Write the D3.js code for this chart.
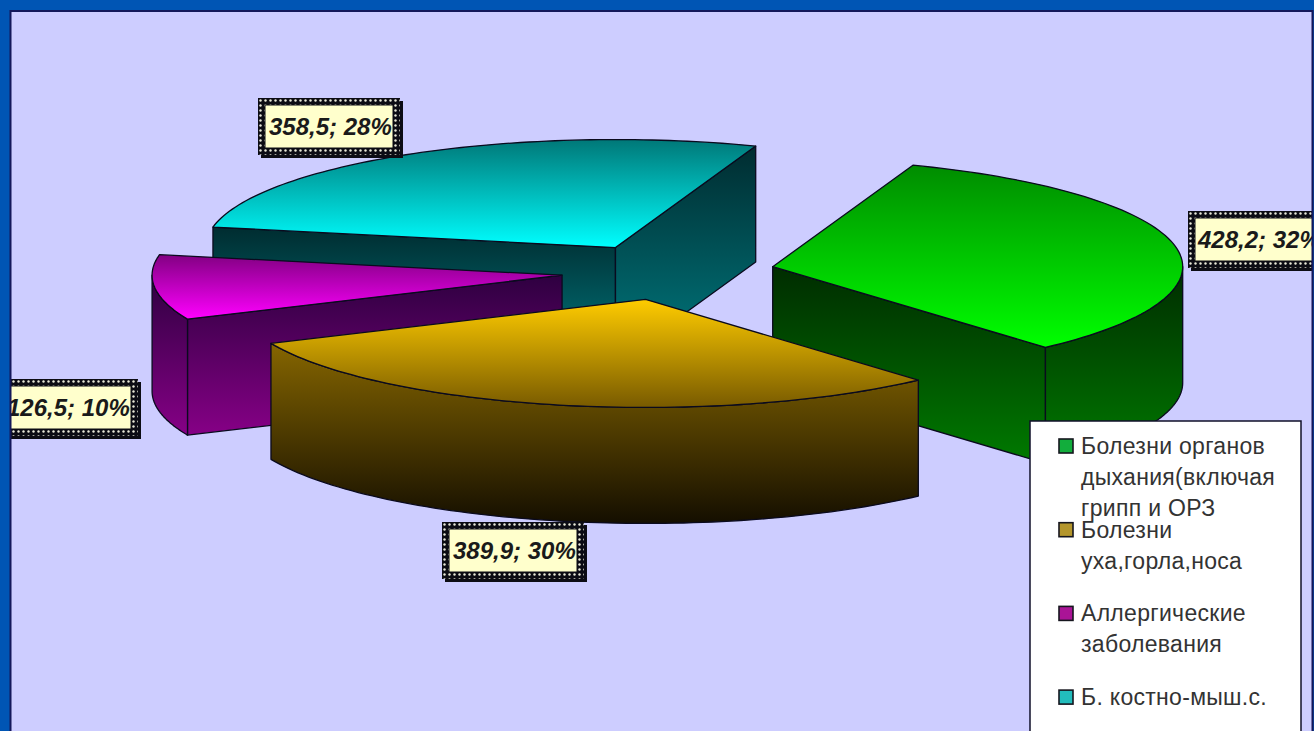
<!DOCTYPE html>
<html lang="ru">
<head>
<meta charset="utf-8">
<script src="https://cdn.jsdelivr.net/npm/d3@7"></script>
<style>
  html, body { margin: 0; padding: 0; background: #0055b4; overflow: hidden; }
  svg { display: block; }
  text { font-family: "Liberation Sans", Arial, sans-serif; }
</style>
</head>
<body>
<script>
// Заболеваемость по группам болезней
const categories = ["Болезни органов дыхания", "Болезни уха, горла, носа", "Аллергические заболевания", "Б. костно-мыш.с."];
const values = [428.2, 389.9, 126.5, 358.5];
const shares = [32, 30, 10, 28];
const legendLines = [
  ["Болезни органов", "дыхания(включая", "грипп и ОРЗ"],
  ["Болезни", "уха,горла,носа"],
  ["Аллергические", "заболевания"],
  ["Б. костно-мыш.с."]
];

const W = 1314, H = 731;

// Параметры объёмной разрезанной диаграммы
const cx = 668, cy = 272, rx = 410, ry = 108, depth = 116, explode = 0.26;
const startAngle = -70 * Math.PI / 180;

const palette = [
  { top: ["#008c00", "#00ff00"], side: ["#002c00", "#007a00"], swatch: "#12ad3c" },
  { top: ["#ffcc00", "#785a00"], side: ["#866600", "#140e00"], swatch: "#b4962c" },
  { top: ["#820082", "#ff00ff"], side: ["#2e0040", "#860086"], swatch: "#aa1496" },
  { top: ["#007878", "#00ffff"], side: ["#002c30", "#007a80"], swatch: "#22bcbc" }
];

// Рамки подписей: левый верхний угол и ширина блока
const labelLayout = [
  { x: 1188, y: 211, w: 150 },
  { x: 442, y: 522, w: 142 },
  { x: -4, y: 379, w: 142 },
  { x: 258, y: 98, w: 142 }
];

const svg = d3.select("body").append("svg").attr("width", W).attr("height", H);
const defs = svg.append("defs");

function verticalGradient(id, stops) {
  const g = defs.append("linearGradient").attr("id", id)
    .attr("x1", 0).attr("y1", 0).attr("x2", 0).attr("y2", 1);
  g.selectAll("stop").data(stops).join("stop")
    .attr("offset", (d, i) => i / (stops.length - 1))
    .attr("stop-color", d => d);
}
palette.forEach((p, i) => {
  verticalGradient("top" + i, p.top);
  verticalGradient("side" + i, p.side);
});

// Точечный узор рамки подписи
const dots = defs.append("pattern").attr("id", "dots")
  .attr("width", 5).attr("height", 5).attr("patternUnits", "userSpaceOnUse");
dots.append("rect").attr("width", 5).attr("height", 5).attr("fill", "#0c0c14");
dots.append("circle").attr("cx", 2.5).attr("cy", 2.5).attr("r", 1.2).attr("fill", "#e8e8d8");

svg.append("rect").attr("width", W).attr("height", H).attr("fill", "#cdcdff");

const pie = d3.pie().sort(null).startAngle(startAngle).endAngle(startAngle + 2 * Math.PI);
const arcs = pie(values);

const xScale = d3.scaleLinear().domain([-1, 1]).range([-rx, rx]);
const yScale = d3.scaleLinear().domain([-1, 1]).range([-ry, ry]);
const line = d3.line();

function geometry(a) {
  const mid = (a.startAngle + a.endAngle) / 2;
  const ox = cx + explode * xScale(Math.cos(mid));
  const oy = cy + explode * yScale(Math.sin(mid));
  const at = t => [ox + xScale(Math.cos(t)), oy + yScale(Math.sin(t))];
  const rim = (t0, t1) => d3.range(0, 81).map(k => at(t0 + (t1 - t0) * k / 80));
  return { apex: [ox, oy], at, rim };
}
const drop = p => [p[0], p[1] + depth];

function drawSlice(i) {
  const a = arcs[i], g = geometry(a);
  const group = svg.append("g").attr("class", "slice");
  const face = (pts, fill) => group.append("path")
    .attr("d", line(pts) + "Z")
    .attr("fill", fill)
    .attr("stroke", "#0a0a1e").attr("stroke-width", 1.3).attr("stroke-linejoin", "round");

  // Боковые грани разреза, обращённые к зрителю
  if (Math.cos(a.startAngle) < 0) {
    const p = g.at(a.startAngle);
    face([g.apex, p, drop(p), drop(g.apex)], `url(#side${i})`);
  }
  if (Math.cos(a.endAngle) > 0) {
    const p = g.at(a.endAngle);
    face([g.apex, p, drop(p), drop(g.apex)], `url(#side${i})`);
  }
  // Внешняя стенка видна только на передней половине эллипса
  [-2, 0, 2].forEach(k => {
    const lo = Math.max(a.startAngle, k * Math.PI);
    const hi = Math.min(a.endAngle, (k + 1) * Math.PI);
    if (hi > lo) {
      const edge = g.rim(lo, hi);
      face(edge.concat(edge.map(drop).reverse()), `url(#side${i})`);
    }
  });
  // Верхняя грань
  face([g.apex].concat(g.rim(a.startAngle, a.endAngle)), `url(#top${i})`);
}

// Порядок рисования: от дальних секторов к ближним
[3, 2, 0, 1].forEach(drawSlice);

// Подписи данных
const commaNumber = v => d3.format(".1f")(v).replace(".", ",");
const labels = svg.selectAll("g.label").data(values).join("g").attr("class", "label")
  .attr("transform", (d, i) => `translate(${labelLayout[i].x},${labelLayout[i].y})`);
labels.append("rect").attr("x", 3).attr("y", 3)
  .attr("width", (d, i) => labelLayout[i].w).attr("height", 57).attr("fill", "#0c0c14");
labels.append("rect")
  .attr("width", (d, i) => labelLayout[i].w).attr("height", 57).attr("fill", "url(#dots)");
labels.append("rect").attr("x", 7).attr("y", 7)
  .attr("width", (d, i) => labelLayout[i].w - 14).attr("height", 43)
  .attr("fill", "#ffffcc").attr("stroke", "#0c0c14").attr("stroke-width", 1);
labels.append("text").attr("x", (d, i) => i === 0 ? 10 : 11).attr("y", 37)
  .attr("font-size", 24).attr("font-weight", "bold").attr("font-style", "italic").attr("fill", "#1a1a1a")
  .text((d, i) => `${commaNumber(d)}; ${shares[i]}%`);

// Легенда
const legendX = 1030, legendY = 421, itemStep = 83.7, lineStep = 31;
svg.append("rect").attr("x", legendX).attr("y", legendY).attr("width", 271).attr("height", H)
  .attr("fill", "#fff").attr("stroke", "#10102a").attr("stroke-width", 1.5);
const items = svg.selectAll("g.legend").data(legendLines).join("g").attr("class", "legend")
  .attr("transform", (d, i) => `translate(${legendX + 29},${legendY + 18 + i * itemStep})`);
items.append("rect").attr("width", 14).attr("height", 14).attr("y", 0)
  .attr("fill", (d, i) => palette[i].swatch)
  .attr("stroke", "#16161e").attr("stroke-width", 1.6);
items.selectAll("text").data(d => d).join("text")
  .attr("x", 22).attr("y", (d, j) => 15 + j * lineStep)
  .attr("font-size", 23).attr("letter-spacing", 0.3).attr("fill", "#333")
  .text(d => d);

// Синяя рамка слайда поверх всего
const frame = svg.append("g");
frame.append("path")
  .attr("fill", "#0055b4").attr("fill-rule", "evenodd")
  .attr("d", `M0,0H${W}V${H}H0Z M10,10V${H}H${W - 1}V10Z`);
frame.append("path")
  .attr("fill", "none").attr("stroke", "#14185a").attr("stroke-width", 2)
  .attr("d", `M10.5,${H}V11H${W - 1.5}V${H}`);
</script>
</body>
</html>
